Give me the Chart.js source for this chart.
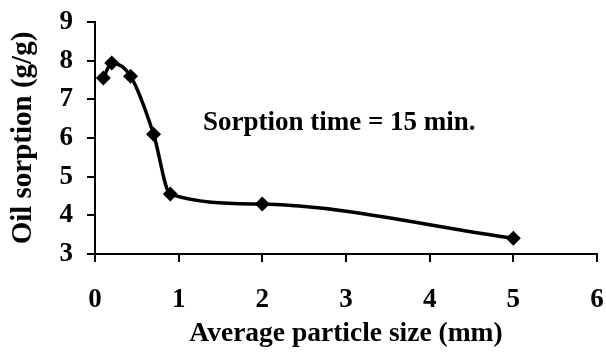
<!DOCTYPE html>
<html>
<head>
<meta charset="utf-8">
<script src="https://cdn.jsdelivr.net/npm/chart.js@4/dist/chart.umd.min.js"></script>
<style>
html,body{margin:0;padding:0;background:#fff;}
#wrap{width:606px;height:352px;}
</style>
</head>
<body>
<div id="wrap"><canvas id="c" width="606" height="352"></canvas></div>
<script>
const particleSize = [0.1, 0.2, 0.425, 0.7, 0.9, 2, 5];
const oilSorption = [7.55, 7.94, 7.6, 6.1, 4.55, 4.29, 3.41];
const xTicks = [0, 1, 2, 3, 4, 5, 6];
const yTicks = [3, 4, 5, 6, 7, 8, 9];
const annotationText = 'Sorption time = 15 min.';
const xTitle = 'Average particle size (mm)';
const yTitle = 'Oil sorption (g/g)';

const FONT = '"Liberation Serif", "Times New Roman", serif';

const annot = {
  id: 'annot',
  afterDatasetsDraw(chart) {
    const ctx = chart.ctx;
    const xs = chart.scales.x, ys = chart.scales.y;
    ctx.save();
    ctx.font = 'bold 27px ' + FONT;
    ctx.fillStyle = '#000';
    ctx.textAlign = 'left';
    ctx.textBaseline = 'middle';
    ctx.fillText(annotationText, xs.getPixelForValue(1.29), ys.getPixelForValue(6.38));
    ctx.restore();
  }
};

new Chart(document.getElementById('c'), {
  type: 'scatter',
  data: {
    datasets: [{
      data: particleSize.map((x, i) => ({x: x, y: oilSorption[i]})),
      showLine: true,
      borderColor: '#000',
      backgroundColor: '#000',
      borderWidth: 3.5,
      cubicInterpolationMode: 'monotone',
      pointStyle: 'rectRot',
      pointRadius: 7.5,
      pointHoverRadius: 7.5,
      pointBackgroundColor: '#000',
      pointBorderColor: '#000',
      pointBorderWidth: 0
    }]
  },
  options: {
    responsive: false,
    animation: false,
    devicePixelRatio: 1,
    layout: {padding: {top: 22, right: 9, left: 0, bottom: 0}},
    plugins: {legend: {display: false}, tooltip: {enabled: false}},
    scales: {
      x: {
        type: 'linear',
        min: 0, max: 6,
        afterBuildTicks(s) { s.ticks = xTicks.map(v => ({value: v})); },
        afterFit(s) { s.height = 98; s.paddingLeft = 0; s.paddingRight = 0; },
        border: {color: '#000', width: 2},
        grid: {drawOnChartArea: false, color: '#000', lineWidth: 2, tickLength: 8},
        ticks: {color: '#000', font: {family: FONT, size: 27, weight: 'bold'}, padding: 22, maxRotation: 0},
        title: {display: true, text: xTitle, color: '#000', font: {family: FONT, size: 27.5, weight: 'bold'}, padding: {top: 0, bottom: 2}}
      },
      y: {
        type: 'linear',
        min: 3, max: 9,
        afterBuildTicks(s) { s.ticks = yTicks.map(v => ({value: v})); },
        afterFit(s) { s.width = 95; s.paddingTop = 0; s.paddingBottom = 0; },
        border: {color: '#000', width: 2},
        grid: {drawOnChartArea: false, color: '#000', lineWidth: 2, tickLength: 8},
        ticks: {color: '#000', font: {family: FONT, size: 27, weight: 'bold'}, padding: 14},
        title: {display: true, text: yTitle, color: '#000', font: {family: FONT, size: 29, weight: 'bold'}, padding: {top: 6, bottom: 0}}
      }
    }
  },
  plugins: [annot]
});
</script>
</body>
</html>
